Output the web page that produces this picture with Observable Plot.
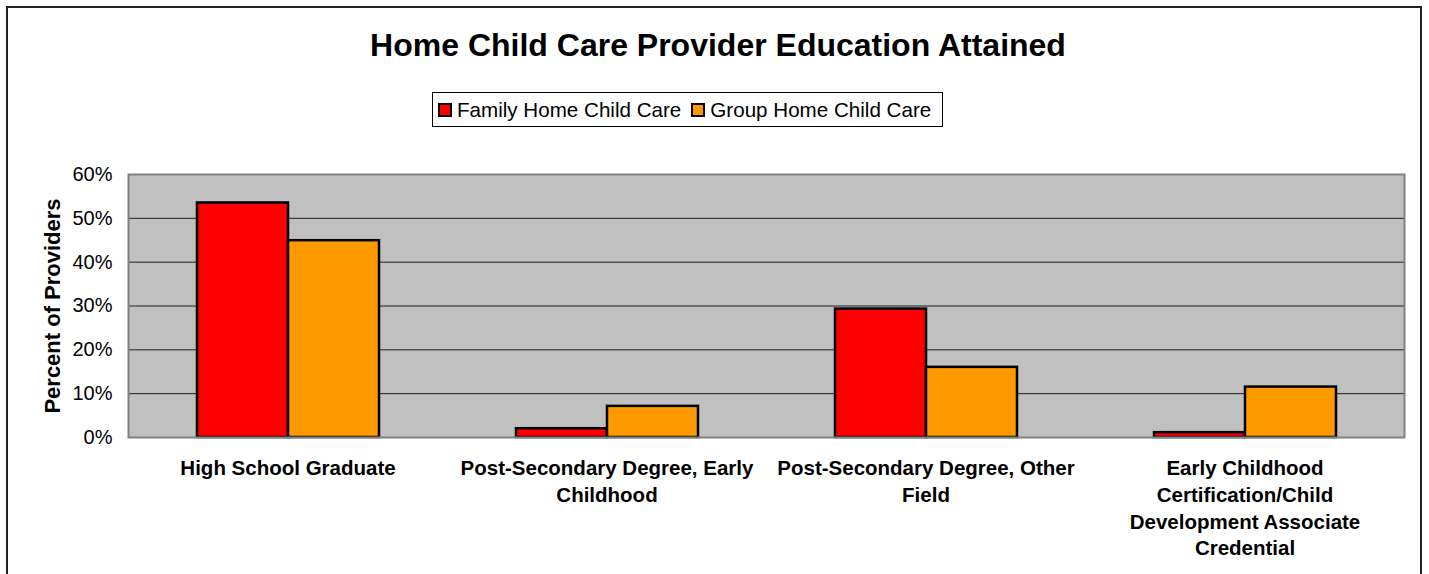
<!DOCTYPE html>
<html>
<head>
<meta charset="utf-8">
<script src="https://cdn.jsdelivr.net/npm/d3@7"></script>
<script src="https://cdn.jsdelivr.net/npm/@observablehq/plot@0.6"></script>
<style>
  html, body { margin: 0; padding: 0; background: #fff; }
  body { width: 1429px; height: 574px; overflow: hidden; position: relative; font-family: "Liberation Sans", Arial, sans-serif; }
  #border { position: absolute; left: 6px; top: 6px; width: 1416px; height: 600px; border: 2px solid #222; box-sizing: border-box; }
  #title { position: absolute; left: 0; width: 1436px; top: 27px; text-align: center; font-weight: bold; font-size: 32px; color: #000; }
  #legend { position: absolute; left: 432px; top: 92px; width: 511px; height: 35px; border: 1.5px solid #000; box-sizing: border-box; display: flex; align-items: center; font-size: 20.6px; color: #000; padding-left: 5px; white-space: nowrap; }
  .sw { display: inline-block; width: 10px; height: 10px; border: 2px solid #000; margin-right: 5px; }
  .item { display: flex; align-items: center; margin-right: 10px; }
  #chart { position: absolute; left: 0; top: 140px; }
  [aria-label="y-axis label"] { font-weight: bold; font-size: 22px; }
</style>
</head>
<body>
<div id="border"></div>
<div id="title">Home Child Care Provider Education Attained</div>
<div id="legend"></div>
<div id="chart"></div>
<script>
const categories = [
  "High School Graduate",
  "Post-Secondary Degree, Early Childhood",
  "Post-Secondary Degree, Other Field",
  "Early Childhood Certification/Child Development Associate Credential"
];
const categoryLabels = [
  "High School Graduate",
  "Post-Secondary Degree, Early\nChildhood",
  "Post-Secondary Degree, Other\nField",
  "Early Childhood\nCertification/Child\nDevelopment Associate\nCredential"
];
const seriesNames = ["Family Home Child Care", "Group Home Child Care"];
const seriesColors = ["#ff0000", "#ff9900"];
const familyValues = [0.535, 0.020, 0.293, 0.011];
const groupValues = [0.449, 0.071, 0.160, 0.115];
const yTicks = [0, 0.1, 0.2, 0.3, 0.4, 0.5, 0.6];

const data = [];
categories.forEach((c, i) => {
  data.push({category: c, series: seriesNames[0], value: familyValues[i]});
  data.push({category: c, series: seriesNames[1], value: groupValues[i]});
});
const labelOf = new Map(categories.map((c, i) => [c, categoryLabels[i]]));

// legend
const legend = document.getElementById("legend");
seriesNames.forEach((s, i) => {
  const it = document.createElement("span");
  it.className = "item";
  const sw = document.createElement("span");
  sw.className = "sw";
  sw.style.background = seriesColors[i];
  it.appendChild(sw);
  it.appendChild(document.createTextNode(s));
  legend.appendChild(it);
});

const chart = Plot.plot({
  width: 1429,
  height: 434,
  marginTop: 34,
  marginBottom: 137,
  marginLeft: 127,
  marginRight: 25,
  style: {fontFamily: "'Liberation Sans', Arial, sans-serif", fontSize: "20px", color: "#000", background: "transparent"},
  fx: {domain: categories, padding: 0, label: null},
  x: {domain: seriesNames, paddingInner: 0, paddingOuter: 0.745, axis: null},
  y: {domain: [0, 0.6], label: null},
  color: {domain: seriesNames, range: seriesColors},
  marks: [
    Plot.frame({fill: "#c0c0c0", stroke: null, facet: "super"}),
    Plot.gridY(yTicks.slice(1, -1), {stroke: "#000", strokeOpacity: 0.85, strokeWidth: 1}),
    Plot.barY(data, {fx: "category", x: "series", y: "value", fill: "series", stroke: "#000", strokeWidth: 2.5, inset: 0}),
    Plot.frame({stroke: "#808080", strokeWidth: 2, facet: "super"}),
    Plot.axisY({ticks: yTicks, tickFormat: d3.format(".0%"), tickSize: 0, tickPadding: 16, fontSize: 20,
      label: "Percent of Providers", labelAnchor: "center", labelOffset: 84, labelArrow: "none"}),
    Plot.axisFx({anchor: "bottom", tickSize: 0, tickPadding: 19, fontSize: 20.5, fontWeight: "bold", lineHeight: 1.3,
      tickFormat: (d) => labelOf.get(d), label: null})
  ]
});
document.getElementById("chart").appendChild(chart);
</script>
</body>
</html>
